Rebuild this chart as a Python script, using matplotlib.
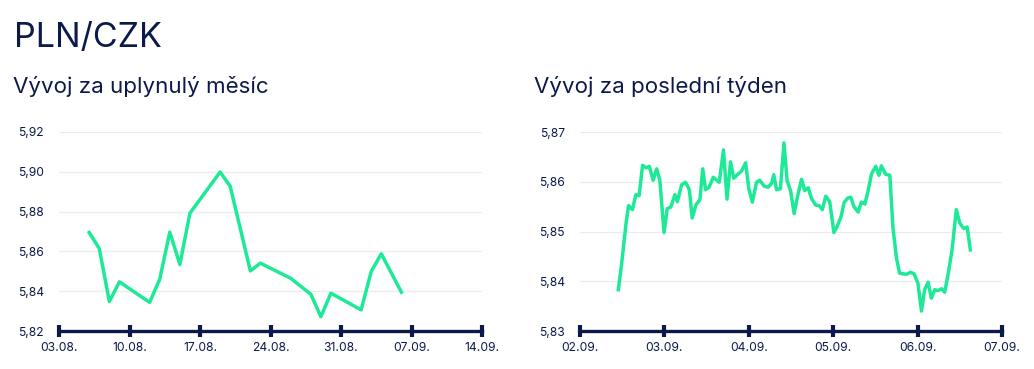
import matplotlib
matplotlib.use('Agg')
import matplotlib.pyplot as plt
import pandas as pd

NAVY = '#0c1a4b'
GREEN = '#1de997'
GRID = '#ececec'

# Vývoj za uplynulý měsíc (denní kurzy)
month_dates = ['06.08.', '07.08.', '08.08.', '09.08.', '12.08.', '13.08.', '14.08.',
               '15.08.', '16.08.', '19.08.', '20.08.', '22.08.', '23.08.', '26.08.',
               '28.08.', '29.08.', '30.08.', '02.09.', '03.09.', '04.09.', '06.09.']
month_values = [5.8695, 5.8614, 5.8348, 5.8447, 5.8344, 5.8460, 5.8697,
                5.8534, 5.8792, 5.8999, 5.8927, 5.8502, 5.8541, 5.8465,
                5.8385, 5.8272, 5.8390, 5.8306, 5.8499, 5.8588, 5.8395]
month_ticks = ['03.08.', '10.08.', '17.08.', '24.08.', '31.08.', '07.09.', '14.09.']
month_yticks = [5.82, 5.84, 5.86, 5.88, 5.90, 5.92]

# Vývoj za poslední týden (hodiny od 02.09. 00:00)
week_hours = [10.9, 11.8, 13.1, 13.8, 14.9, 15.9, 16.8, 17.8, 18.8, 19.7,
              20.8, 21.8, 22.7, 23.9, 24.8, 25.8, 27.0, 27.7, 28.9, 30.0,
              31.1, 31.9, 33.0, 34.1, 34.9, 35.7, 36.7, 37.9, 39.6, 40.8,
              41.8, 42.8, 43.7, 45.0, 45.9, 47.1, 48.0, 49.0, 50.2, 51.1,
              52.4, 53.5, 54.5, 55.1, 55.9, 57.0, 58.0, 58.9, 59.9, 60.9,
              61.8, 63.0, 63.9, 64.9, 65.8, 67.0, 68.0, 68.9, 69.9, 71.0,
              72.2, 73.1, 74.2, 75.1, 76.1, 77.0, 77.9, 79.1, 80.0, 81.0,
              81.9, 82.9, 84.1, 85.0, 85.7, 86.9, 88.1, 89.0, 90.0, 90.9,
              91.9, 92.8, 94.0, 95.0, 96.1, 97.1, 98.0, 99.0, 99.9, 100.9,
              101.8, 102.8, 103.7, 104.7, 105.8, 107.0, 108.0, 109.1, 110.1, 111.0]
week_values = [5.8383, 5.8433, 5.8517, 5.8552, 5.8544, 5.8574, 5.8572, 5.8633, 5.8628, 5.8631,
               5.8603, 5.8626, 5.8603, 5.8498, 5.8546, 5.8549, 5.8574, 5.8560, 5.8594, 5.8599,
               5.8584, 5.8527, 5.8554, 5.8564, 5.8626, 5.8584, 5.8589, 5.8609, 5.8599, 5.8664,
               5.8565, 5.8640, 5.8607, 5.8616, 5.8621, 5.8638, 5.8586, 5.8559, 5.8599, 5.8603,
               5.8591, 5.8589, 5.8597, 5.8614, 5.8584, 5.8586, 5.8678, 5.8602, 5.8581, 5.8536,
               5.8569, 5.8605, 5.8582, 5.8588, 5.8567, 5.8553, 5.8552, 5.8544, 5.8571, 5.8560,
               5.8498, 5.8510, 5.8529, 5.8558, 5.8567, 5.8569, 5.8550, 5.8539, 5.8559, 5.8555,
               5.8581, 5.8616, 5.8631, 5.8613, 5.8632, 5.8615, 5.8613, 5.8507, 5.8446, 5.8416,
               5.8415, 5.8414, 5.8418, 5.8415, 5.8396, 5.8340, 5.8383, 5.8398, 5.8366, 5.8383,
               5.8381, 5.8385, 5.8378, 5.8415, 5.8463, 5.8544, 5.8517, 5.8506, 5.8509, 5.8463]
week_ticks = ['02.09.', '03.09.', '04.09.', '05.09.', '06.09.', '07.09.']
week_yticks = [5.83, 5.84, 5.85, 5.86, 5.87]

plt.rcParams['font.family'] = ['Inter', 'DejaVu Sans']


def to_dates(labels):
    return pd.to_datetime([d + '2020' for d in labels], format='%d.%m.%Y')


def style_axes(ax, yticks, xticks, xlabels):
    ax.set_ylim(yticks[0], yticks[-1])
    ax.set_yticks(yticks)
    ax.set_yticklabels([f'{v:.2f}'.replace('.', ',') for v in yticks])
    ax.set_xlim(xticks[0], xticks[-1])
    ax.set_xticks(xticks)
    ax.set_xticklabels(xlabels)
    for s in ['top', 'right', 'left']:
        ax.spines[s].set_visible(False)
    ax.spines['bottom'].set_color(NAVY)
    ax.spines['bottom'].set_linewidth(2.4)
    ax.spines['bottom'].set_zorder(4)
    ax.grid(axis='y', color=GRID, linewidth=0.9)
    ax.set_axisbelow(True)
    ax.tick_params(axis='y', length=0, pad=11, labelsize=8.7, labelcolor=NAVY)
    ax.tick_params(axis='x', direction='inout', length=8, width=3, color=NAVY,
                   pad=4, labelsize=8.7, labelcolor=NAVY)


fig = plt.figure(figsize=(10.34, 3.69), dpi=100)
ax1 = fig.add_axes([59 / 1034, 38 / 369, 423 / 1034, 199 / 369])
ax2 = fig.add_axes([580 / 1034, 38 / 369, 422 / 1034, 199 / 369])

# month chart
mx = to_dates(month_dates)
mt = to_dates(month_ticks)
ax1.plot(mx, month_values, color=GREEN, linewidth=2.5, zorder=3)
style_axes(ax1, month_yticks, list(mt), month_ticks)

# week chart
ax2.plot(week_hours, week_values, color=GREEN, linewidth=2.5, zorder=3)
style_axes(ax2, week_yticks, [24 * i for i in range(len(week_ticks))], week_ticks)

fig.text(14 / 1034, 1 - 47 / 369, 'PLN/CZK', fontsize=24.5, color=NAVY, va='baseline')
fig.text(13 / 1034, 1 - 93 / 369, 'Vývoj za uplynulý měsíc', fontsize=16.1, color=NAVY, va='baseline')
fig.text(534 / 1034, 1 - 93 / 369, 'Vývoj za poslední týden', fontsize=16.1, color=NAVY, va='baseline')

fig.savefig('out.png', dpi=100)
